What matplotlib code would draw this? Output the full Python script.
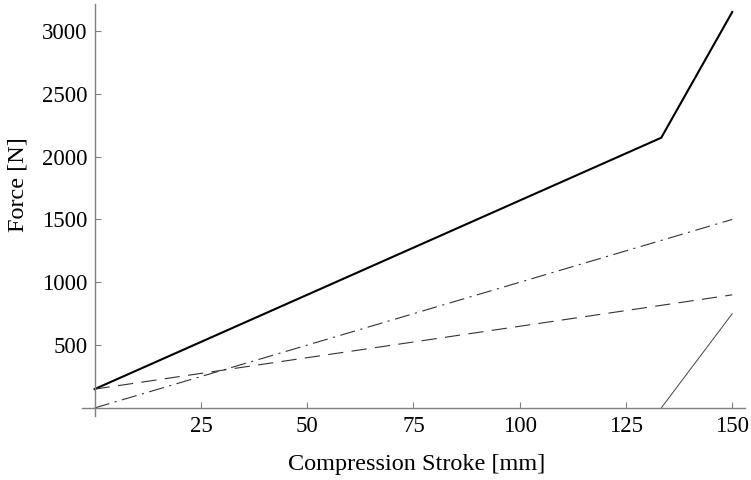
import matplotlib
matplotlib.use("Agg")
import matplotlib.pyplot as plt

plt.rcParams['font.family'] = ['Liberation Serif', 'DejaVu Serif']
plt.rcParams['lines.scale_dashes'] = False

# data
total_x = [0, 133.3, 150]
total_y = [150, 2150, 3150]
dashdot_x = [0, 150]
dashdot_y = [0, 1500]
dashed_x = [0, 150]
dashed_y = [150, 900]
thin_x = [133.3, 150]
thin_y = [0, 750]
xticks = [25, 50, 75, 100, 125, 150]
yticks = [500, 1000, 1500, 2000, 2500, 3000]

fig = plt.figure(figsize=(7.51, 4.80), dpi=100)
ax = fig.add_axes([0.109, 0.1333, 0.883, 0.8584])

ax.plot(total_x, total_y, color='black', lw=1.5, solid_joinstyle='miter')
ax.plot(dashdot_x, dashdot_y, color='#333333', lw=0.8, dashes=(11, 4, 1.5, 4))
ax.plot(dashed_x, dashed_y, color='#333333', lw=0.8, dashes=(11, 6))
ax.plot(thin_x, thin_y, color='#444444', lw=0.7)

ax.set_xlim(-3, 153)
ax.set_ylim(-64, 3214)

for s in ['top', 'right']:
    ax.spines[s].set_visible(False)
for s in ['left', 'bottom']:
    ax.spines[s].set_position(('data', 0))
    ax.spines[s].set_color('#808080')
    ax.spines[s].set_linewidth(1.0)

ax.set_xticks(xticks)
ax.set_yticks(yticks)
ax.set_xticklabels([str(t) for t in xticks])
ax.set_yticklabels([str(t) for t in yticks])
ax.tick_params(axis='both', direction='in', length=4, width=0.8, color='#808080',
               labelsize=16.5, labelcolor='black')
ax.tick_params(axis='x', pad=6)
ax.tick_params(axis='y', pad=5)

fig.text(0.024, 0.615, 'Force [N]', rotation=90, ha='center', va='center', fontsize=17.5)
fig.text(0.555, 0.032, 'Compression Stroke [mm]', ha='center', va='center', fontsize=17.5)

fig.savefig('out.png', dpi=100)
